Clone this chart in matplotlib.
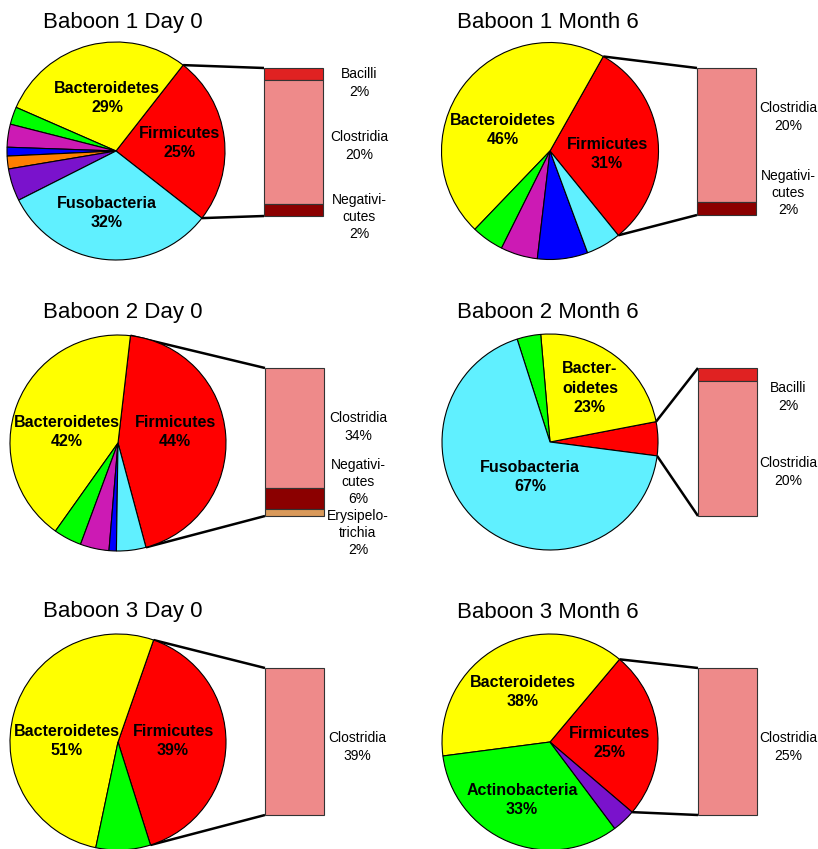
import matplotlib.pyplot as plt
import numpy as np

plt.rcParams['font.family'] = ['Liberation Sans', 'DejaVu Sans']

W, H = 818, 849

# phylum share of each sample (%), Firmicutes first so it sits next to the bar
b1_d0_phyla = ["Firmicutes", "Bacteroidetes", "", "", "", "", "", "Fusobacteria"]
b1_d0_pct = [25, 29, 2.6, 3.4, 1.3, 1.9, 4.8, 32]
b1_d0_classes = ["Bacilli", "Clostridia", "Negativicutes"]
b1_d0_class_pct = [2, 20, 2]

b1_m6_phyla = ["Firmicutes", "Bacteroidetes", "", "", "", ""]
b1_m6_pct = [31, 46, 4.8, 5.5, 7.5, 5.2]
b1_m6_classes = ["Clostridia", "Negativicutes"]
b1_m6_class_pct = [20, 2]

b2_d0_phyla = ["Firmicutes", "Bacteroidetes", "", "", "", ""]
b2_d0_pct = [44, 42, 4.2, 4.3, 1.1, 4.4]
b2_d0_classes = ["Clostridia", "Negativicutes", "Erysipelotrichia"]
b2_d0_class_pct = [34, 6, 2]

b2_m6_phyla = ["", "Bacteroidetes", "", "Fusobacteria"]
b2_m6_pct = [5, 23, 3.5, 67]
b2_m6_classes = ["Bacilli", "Clostridia"]
b2_m6_class_pct = [2, 20]

b3_d0_phyla = ["Firmicutes", "Bacteroidetes", ""]
b3_d0_pct = [39, 51, 8]
b3_d0_classes = ["Clostridia"]
b3_d0_class_pct = [39]

b3_m6_phyla = ["Firmicutes", "Bacteroidetes", "Actinobacteria", ""]
b3_m6_pct = [25, 38, 33, 3.5]
b3_m6_classes = ["Clostridia"]
b3_m6_class_pct = [25]

titles = ["Baboon 1 Day 0", "Baboon 1 Month 6", "Baboon 2 Day 0",
          "Baboon 2 Month 6", "Baboon 3 Day 0", "Baboon 3 Month 6"]

RED, YEL, CYA, GRN = "#ff0000", "#ffff00", "#60f0ff", "#00ff00"
MAG, BLU, ORA, PUR = "#cc1ab4", "#0000ff", "#ff7f00", "#7a12cc"
class_colors = {"Bacilli": "#e02222", "Clostridia": "#ee8a8a",
                "Negativicutes": "#8b0000", "Erysipelotrichia": "#d9995a"}
wrap = {"Negativicutes": "Negativi-\ncutes",
        "Erysipelotrichia": "Erysipelo-\ntrichia"}

# layout in pixels (y measured from the top)
panels = [
    dict(phyla=b1_d0_phyla, pct=b1_d0_pct, cls=b1_d0_classes, cls_pct=b1_d0_class_pct,
         colors=[RED, YEL, GRN, MAG, BLU, ORA, PUR, CYA],
         center=(116, 151), r=109, start=-38, bar=(264, 323, 68, 216), title=(123, 22),
         lab={"Bacteroidetes": (107, 98), "Firmicutes": (180, 143), "Fusobacteria": (107, 213)},
         sub_x=359, sub_y=[83, 146, 217]),
    dict(phyla=b1_m6_phyla, pct=b1_m6_pct, cls=b1_m6_classes, cls_pct=b1_m6_class_pct,
         colors=[RED, YEL, GRN, MAG, BLU, CYA],
         center=(550, 151), r=108.5, start=-51, bar=(697, 756, 68, 215), title=(548, 22),
         lab={"Bacteroidetes": (503, 130), "Firmicutes": (607, 154)},
         sub_x=788, sub_y=[117, 193]),
    dict(phyla=b2_d0_phyla, pct=b2_d0_pct, cls=b2_d0_classes, cls_pct=b2_d0_class_pct,
         colors=[RED, YEL, GRN, MAG, BLU, CYA],
         center=(118, 443), r=108, start=-75, bar=(265, 324, 368, 516), title=(123, 312),
         lab={"Bacteroidetes": (67, 432), "Firmicutes": (175, 432)},
         sub_x=358, sub_y=[427, 482, 533]),
    dict(phyla=b2_m6_phyla, pct=b2_m6_pct, cls=b2_m6_classes, cls_pct=b2_m6_class_pct,
         colors=[RED, YEL, GRN, CYA],
         center=(550, 442), r=108, start=-7.4, bar=(698, 757, 368, 516), title=(548, 312),
         lab={"Bacteroidetes": (590, 388), "Fusobacteria": (530, 477)},
         short={"Bacteroidetes": "Bacter-\noidetes"},
         sub_x=788, sub_y=[397, 472]),
    dict(phyla=b3_d0_phyla, pct=b3_d0_pct, cls=b3_d0_classes, cls_pct=b3_d0_class_pct,
         colors=[RED, YEL, GRN],
         center=(118, 742), r=108, start=-72.5, bar=(265, 324, 668, 815), title=(123, 612),
         lab={"Bacteroidetes": (67, 741), "Firmicutes": (173, 741)},
         sub_x=357, sub_y=[747]),
    dict(phyla=b3_m6_phyla, pct=b3_m6_pct, cls=b3_m6_classes, cls_pct=b3_m6_class_pct,
         colors=[RED, YEL, GRN, PUR],
         center=(550, 742), r=108, start=-40.5, bar=(698, 757, 668, 815), title=(548, 612),
         lab={"Bacteroidetes": (523, 692), "Firmicutes": (610, 743), "Actinobacteria": (522, 800)},
         sub_x=788, sub_y=[747]),
]

fig = plt.figure(figsize=(W / 100, H / 100), dpi=100)
ax = fig.add_axes([0, 0, 1, 1])

for k, p in enumerate(panels):
    cx, cy = p["center"][0], H - p["center"][1]
    wedges, _ = ax.pie(p["pct"], colors=p["colors"], startangle=p["start"],
                       center=(cx, cy), radius=p["r"], frame=True,
                       wedgeprops=dict(edgecolor="black", linewidth=0.8))

    for name, (tx, ty) in p["lab"].items():
        i = p["phyla"].index(name)
        shown = p.get("short", {}).get(name, name)
        ax.text(tx, H - ty, f"{shown}\n{p['pct'][i]}%", ha="center", va="center",
                fontsize=11.5, fontweight="bold", linespacing=1.4)

    # stacked bar splitting the red slice into classes
    x0, x1, y_top, y_bot = p["bar"]
    scale = (y_bot - y_top) / sum(p["cls_pct"])
    top = H - y_top
    for c, v, sy in zip(p["cls"], p["cls_pct"], p["sub_y"]):
        h = v * scale
        ax.bar((x0 + x1) / 2, h, width=x1 - x0, bottom=top - h,
               color=class_colors[c], edgecolor="#333333", linewidth=0.8)
        top -= h
        ax.text(p["sub_x"], H - sy, f"{wrap.get(c, c)}\n{v}%", ha="center",
                va="center", fontsize=10, linespacing=1.3)

    # connector lines from the red slice edges to the bar corners
    w = wedges[0]
    for ang, by in ((w.theta2, y_top), (w.theta1, y_bot)):
        ex = w.center[0] + w.r * np.cos(np.radians(ang))
        ey = w.center[1] + w.r * np.sin(np.radians(ang))
        ax.plot([ex, x0], [ey, H - by], color="black", linewidth=1.8,
                solid_capstyle="butt", zorder=0.5)

    ax.text(p["title"][0], H - p["title"][1], titles[k],
            ha="center", va="center", fontsize=16)

ax.set_xlim(0, W)
ax.set_ylim(0, H)
ax.set_aspect("equal")
ax.axis("off")

fig.savefig("out.png", dpi=100)
